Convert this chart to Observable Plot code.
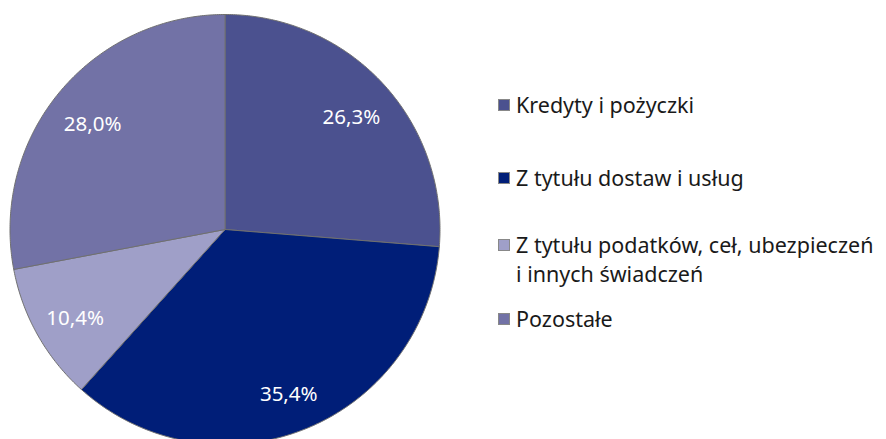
<!DOCTYPE html>
<html><head><meta charset="utf-8">
<script src="https://cdn.jsdelivr.net/npm/d3@7"></script>
<script src="https://cdn.jsdelivr.net/npm/@observablehq/plot@0.6"></script>
<style>
body{margin:0;background:#fff;font-family:"Noto Sans",sans-serif;}
#wrap{position:relative;width:886px;height:439px;overflow:hidden;}
#legend{position:absolute;left:498px;top:0;color:#1a1a1a;font-size:21.5px;line-height:29px;}
.item{display:flex;align-items:flex-start;position:absolute;left:0;white-space:nowrap;}
.sw{width:12px;height:12px;margin-top:9px;margin-right:6px;border:0.5px solid #888;box-sizing:border-box;flex:none;}
</style></head>
<body><div id="wrap"><div id="chart"></div><div id="legend"></div></div>
<script>
const categories = ["Kredyty i pożyczki","Z tytułu dostaw i usług","Z tytułu podatków, ceł, ubezpieczeń i innych świadczeń","Pozostałe"];
const legendLines = [["Kredyty i pożyczki"],["Z tytułu dostaw i usług"],["Z tytułu podatków, ceł, ubezpieczeń","i innych świadczeń"],["Pozostałe"]];
const values = [26.3, 35.4, 10.4, 28.0];
const labels = ["26,3%","35,4%","10,4%","28,0%"];
const colors = ["#4b518f","#001e78","#9f9fc8","#7272a6"];

const pie = d3.pie().sort(null).value(d => d)(values);
const pts = [];
pie.forEach((a, i) => {
  const n = Math.max(2, Math.ceil((a.endAngle - a.startAngle) / 0.01));
  pts.push({cat: categories[i], x: 0, y: 0});
  for (let k = 0; k <= n; k++) {
    const t = a.startAngle + (a.endAngle - a.startAngle) * k / n;
    pts.push({cat: categories[i], x: Math.sin(t), y: Math.cos(t)});
  }
  pts.push({cat: categories[i], x: 0, y: 0});
});
const lab = pie.map((a, i) => {
  const m = (a.startAngle + a.endAngle) / 2, r = 0.8;
  return {x: r * Math.sin(m), y: r * Math.cos(m), text: labels[i]};
});

const chart = Plot.plot({
  width: 886, height: 439,
  margin: 0,
  x: {domain: [-1, 1], range: [9.5, 439.5], axis: null},
  y: {domain: [-1, 1], range: [444, 14], axis: null},
  color: {domain: categories, range: colors},
  style: {fontFamily: "Noto Sans, sans-serif", background: "white"},
  marks: [
    Plot.line(pts, {x: "x", y: "y", z: "cat", fill: "cat", stroke: "#707070", strokeWidth: 1, curve: "linear"}),
    Plot.text(lab, {x: "x", y: "y", text: "text", fill: "white", fontSize: 20.5, dy: 5})
  ]
});
document.getElementById("chart").appendChild(chart);

const tops = [90, 163, 230, 304];
const lg = document.getElementById("legend");
legendLines.forEach((lines, i) => {
  const it = document.createElement("div");
  it.className = "item";
  it.style.top = tops[i] + "px";
  const sw = document.createElement("div");
  sw.className = "sw"; sw.style.background = colors[i];
  const tx = document.createElement("div");
  lines.forEach(l => { const d = document.createElement("div"); d.textContent = l; tx.appendChild(d); });
  it.appendChild(sw); it.appendChild(tx);
  lg.appendChild(it);
});
</script></body></html>
